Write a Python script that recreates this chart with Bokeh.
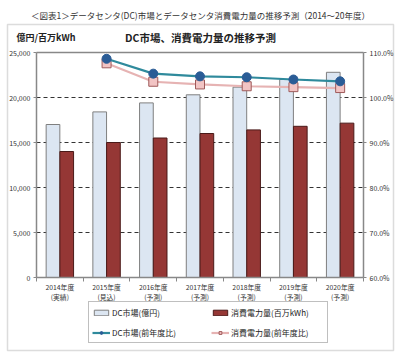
from bokeh.plotting import figure
from bokeh.models import (ColumnDataSource, Range1d, LinearAxis, FixedTicker,
                          NumeralTickFormatter, PrintfTickFormatter, Legend,
                          LegendItem, Label, BoxAnnotation)
from bokeh.embed import file_html
from bokeh.resources import INLINE

# ---- data ----
years = ["2014年度", "2015年度", "2016年度", "2017年度", "2018年度", "2019年度", "2020年度"]
status = ["(実績)", "(見込)", "(予測)", "(予測)", "(予測)", "(予測)", "(予測)"]
dc_market = [17000, 18400, 19400, 20300, 21150, 22000, 22800]      # 億円
power_use = [14000, 15000, 15500, 16000, 16400, 16800, 17150]      # 百万kWh
yoy_years = ["2015年度", "2016年度", "2017年度", "2018年度", "2019年度", "2020年度"]
dc_yoy = [108.6, 105.3, 104.7, 104.5, 104.0, 103.6]                # %
power_yoy = [107.6, 103.5, 102.9, 102.5, 102.3, 102.1]             # %
left_ticks = [0, 5000, 10000, 15000, 20000, 25000]
right_ticks = [60, 70, 80, 90, 100, 110]
grid_ticks = [5000, 10000, 15000, 20000]

JP = "Noto Sans CJK JP"

# ---- layout geometry (pixels) ----
W, H = 400, 357
PL, PR, PT, PB = 36, 363, 52, 277          # inner plot area
n = len(years)
PX_X = (PR - PL) / n
PX_Y = (PB - PT) / left_ticks[-1]
PX_P = (PB - PT) / (right_ticks[-1] - right_ticks[0])

def dx(px):
    return (px - PL) / PX_X

def dy(py):
    return (PB - py) / PX_Y

idx = {y: i + 0.5 for i, y in enumerate(years)}
bar_src = ColumnDataSource(dict(
    xl=[idx[y] - 0.147 for y in years],
    xd=[idx[y] + 0.147 for y in years],
    dc=dc_market, pw=power_use))
line_src = ColumnDataSource(dict(
    x=[idx[y] for y in yoy_years], dc=dc_yoy, pw=power_yoy))

p = figure(width=W, height=H, output_backend="svg", toolbar_location=None,
           x_range=Range1d(dx(0), dx(W)), y_range=Range1d(dy(H), dy(0)),
           min_border=0, x_axis_location=None, y_axis_location=None)
p.border_fill_color = "white"
p.background_fill_color = "white"
p.outline_line_color = None
p.grid.visible = False

p.extra_y_ranges = {"pct": Range1d(right_ticks[0] - (H - PB) / PX_P,
                                   right_ticks[-1] + PT / PX_P)}

# outer frame
p.add_layout(BoxAnnotation(left=dx(7), right=dx(393), top=dy(24), bottom=dy(350),
                           fill_alpha=0, line_color="#8C8C8C", line_width=1.5))

# dashed grid lines and top border of the plot area
p.segment(x0=0, x1=n, y0=grid_ticks, y1=grid_ticks, line_color="#333333",
          line_dash="4 3", line_width=1)
p.segment(x0=0, x1=n, y0=left_ticks[-1], y1=left_ticks[-1], line_color="#888888",
          line_width=1.5)

def style_axis(ax):
    ax.major_label_text_font = JP
    ax.major_label_text_font_size = "7px"
    ax.major_label_text_color = "#333333"
    ax.axis_line_color = "#888888"
    ax.axis_line_width = 1.5
    ax.major_tick_line_color = "#888888"
    ax.minor_tick_line_color = "#888888"
    ax.major_tick_in = 0
    ax.minor_tick_in = 0
    ax.minor_tick_out = 0
    ax.major_tick_out = 3
    ax.major_label_standoff = 3

la = LinearAxis(fixed_location=0, bounds=(left_ticks[0], left_ticks[-1]),
                ticker=FixedTicker(ticks=left_ticks),
                formatter=NumeralTickFormatter(format="0,0"))
style_axis(la)
p.add_layout(la, "left")

ra = LinearAxis(y_range_name="pct", fixed_location=n,
                bounds=(right_ticks[0], right_ticks[-1]),
                ticker=FixedTicker(ticks=right_ticks),
                formatter=PrintfTickFormatter(format="%.1f%%"))
style_axis(ra)
p.add_layout(ra, "right")

xa = LinearAxis(fixed_location=0, bounds=(0, n),
                ticker=FixedTicker(ticks=[idx[y] for y in years],
                                   minor_ticks=list(range(n + 1))))
style_axis(xa)
xa.major_label_overrides = {idx[y]: f"{y}\n{s}" for y, s in zip(years, status)}
xa.major_label_text_font_size = "6.8px"
xa.major_label_text_line_height = 1.0
xa.major_tick_out = 0
xa.minor_tick_out = 4
xa.major_label_standoff = 0
p.add_layout(xa, "below")

# bars
b1 = p.vbar(x="xl", top="dc", width=0.293, bottom=0, source=bar_src,
            fill_color="#DCE6F2", line_color="#7F7F7F", line_width=1)
b2 = p.vbar(x="xd", top="pw", width=0.293, bottom=0, source=bar_src,
            fill_color="#953735", line_color="#4A1A19", line_width=1)

# lines
l2 = p.line(x="x", y="pw", source=line_src, y_range_name="pct",
            line_color="#E6B3B3", line_width=2.2)
s2 = p.scatter(x="x", y="pw", source=line_src, y_range_name="pct", marker="square",
               size=9, fill_color="#F2C4C4", line_color="#9E5A5A", line_width=1)
l1 = p.line(x="x", y="dc", source=line_src, y_range_name="pct",
            line_color="#2F8A9C", line_width=2.2)
s1 = p.scatter(x="x", y="dc", source=line_src, y_range_name="pct", marker="circle",
               size=9, fill_color="#2A5C96", line_color="#2A5C96")

legend = Legend(items=[
    LegendItem(label="DC市場(億円)", renderers=[b1]),
    LegendItem(label="DC市場(前年度比)", renderers=[l1, s1]),
    LegendItem(label="消費電力量(百万kWh)", renderers=[b2]),
    LegendItem(label="消費電力量(前年度比)", renderers=[l2, s2]),
], ncols=2, location=(88, H - 343))
legend.label_text_font = JP
legend.label_text_font_size = "8px"
legend.label_text_color = "#222222"
legend.glyph_width = 18
legend.glyph_height = 7
legend.label_height = 14
legend.label_width = 93
legend.label_standoff = 2
legend.spacing = 6
legend.padding = 3
legend.margin = 0
legend.border_line_color = "#7F7F7F"
legend.border_line_width = 1
legend.background_fill_alpha = 1
p.add_layout(legend, "center")

# texts
p.add_layout(Label(x=dx(200), y=dy(14),
                   text="＜図表1＞データセンタ(DC)市場とデータセンタ消費電力量の推移予測（2014～20年度）",
                   text_font=JP, text_font_size="8.5px", text_align="center",
                   text_baseline="middle", text_color="#333333"))
p.add_layout(Label(x=dx(200), y=dy(37),
                   text="DC市場、消費電力量の推移予測", text_font=JP,
                   text_font_size="10.5px", text_font_style="bold",
                   text_align="center", text_baseline="middle", text_color="#222222"))
p.add_layout(Label(x=dx(16), y=dy(37),
                   text="億円/百万kWh", text_font=JP, text_font_size="9px",
                   text_font_style="bold", text_align="left",
                   text_baseline="middle", text_color="#222222"))

open("out.html", "w").write(file_html(p, INLINE))
